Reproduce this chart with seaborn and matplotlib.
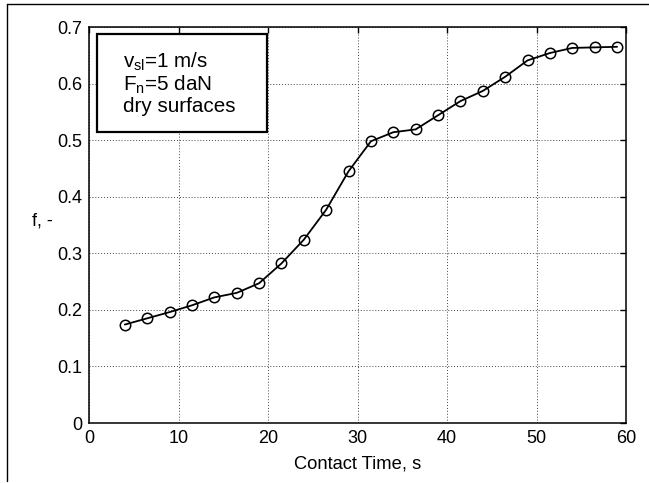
import matplotlib
matplotlib.use("Agg")
import matplotlib.pyplot as plt
import seaborn as sns
import pandas as pd
from matplotlib.lines import Line2D
from matplotlib.patches import Rectangle

# Data
contact_time = [4, 6.5, 9, 11.5, 14, 16.5, 19, 21.5, 24, 26.5, 29, 31.5,
                34, 36.5, 39, 41.5, 44, 46.5, 49, 51.5, 54, 56.5, 59]
friction = [0.174, 0.185, 0.196, 0.208, 0.222, 0.230, 0.247, 0.282, 0.324,
            0.377, 0.445, 0.498, 0.514, 0.519, 0.544, 0.569, 0.587, 0.612,
            0.641, 0.654, 0.663, 0.664, 0.665]
x_ticks = [0, 10, 20, 30, 40, 50, 60]
y_ticks = [0, 0.1, 0.2, 0.3, 0.4, 0.5, 0.6, 0.7]
y_tick_labels = ["0", "0.1", "0.2", "0.3", "0.4", "0.5", "0.6", "0.7"]
note_lines = [r"v$_{\mathregular{sl}}$=1 m/s", r"F$_{\mathregular{n}}$=5 daN", "dry surfaces"]

sns.set_theme(style="white")
plt.rcParams["font.family"] = ["Liberation Sans", "DejaVu Sans"]
plt.rcParams["mathtext.fontset"] = "custom"
plt.rcParams["mathtext.rm"] = "Liberation Sans"
plt.rcParams["mathtext.it"] = "Liberation Sans"

df = pd.DataFrame({"t": contact_time, "f": friction})

fig = plt.figure(figsize=(6.49, 4.83), dpi=100)
fig.patch.set_facecolor("white")
ax = fig.add_axes([89/649, (483-423)/483, (626-89)/649, (423-27)/483])

sns.lineplot(data=df, x="t", y="f", ax=ax, color="black", linewidth=1.3,
             marker="o", markersize=7.5, markerfacecolor="none",
             markeredgecolor="black", markeredgewidth=1.1)

ax.set_xlim(0, 60)
ax.set_ylim(0, 0.7)
ax.set_xticks(x_ticks)
ax.set_xticklabels([str(v) for v in x_ticks])
ax.set_yticks(y_ticks)
ax.set_yticklabels(y_tick_labels)
ax.grid(True, color="#444444", linestyle=(0, (1, 2)), linewidth=0.7)
ax.tick_params(direction="in", length=4, width=1, colors="black",
               top=True, right=True, labelsize=13, pad=5)
for s in ax.spines.values():
    s.set_color("black")
    s.set_linewidth(1.1)

ax.set_xlabel("Contact Time, s", fontsize=13.2, color="black", labelpad=6)
ax.set_ylabel("f, -", fontsize=13, color="black", rotation=0, va="center", ha="center")
ax.yaxis.set_label_coords(-0.086, 0.51)

# annotation box
x0 = (97-89)/537
x1 = (267-89)/537
y1 = (423-34)/396
y0 = (423-132)/396
ax.add_patch(Rectangle((x0, y0), x1-x0, y1-y0, transform=ax.transAxes,
                       facecolor="white", edgecolor="black", linewidth=1.6, zorder=5))
for i, line in enumerate(note_lines):
    ax.text((123-89)/537, (423-62-i*22.5)/396, line, transform=ax.transAxes,
            fontsize=14.9, color="black", va="center", ha="left", zorder=6)

# outer frame (left and top edges)
fig.add_artist(Line2D([7/649, 7/649], [1-4/483, 1-481/483], color="black", linewidth=1))
fig.add_artist(Line2D([7/649, 1.0], [1-4/483, 1-4/483], color="black", linewidth=1))

fig.savefig("out.png", dpi=100, facecolor="white")
